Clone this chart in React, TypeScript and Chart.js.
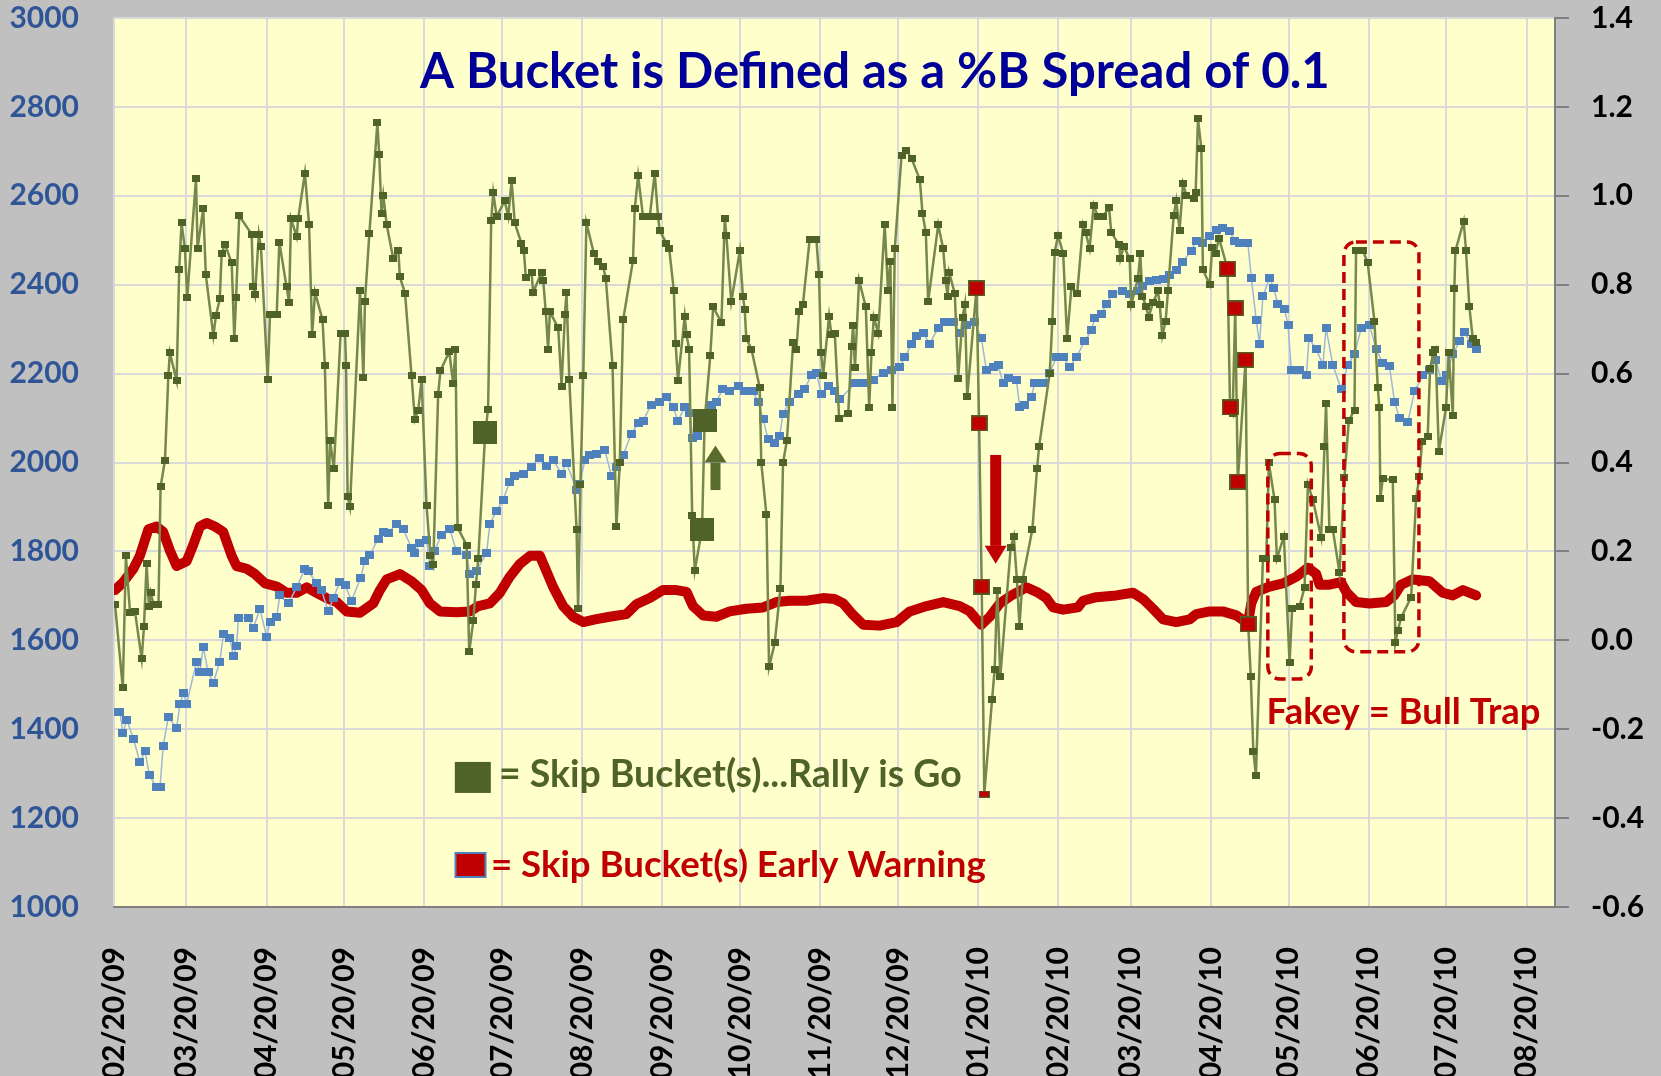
import { useEffect, useRef } from 'react';
import { Chart, registerables } from 'chart.js';

Chart.register(...registerables);

// ---------- axis / calendar ----------
const startDate = '2009-02-20';
const endDate = '2010-08-31';
const tickDates = [
  '2009-02-20', '2009-03-20', '2009-04-20', '2009-05-20', '2009-06-20', '2009-07-20',
  '2009-08-20', '2009-09-20', '2009-10-20', '2009-11-20', '2009-12-20', '2010-01-20',
  '2010-02-20', '2010-03-20', '2010-04-20', '2010-05-20', '2010-06-20', '2010-07-20', '2010-08-20',
];
const tickLabels = [
  '02/20/09', '03/20/09', '04/20/09', '05/20/09', '06/20/09', '07/20/09',
  '08/20/09', '09/20/09', '10/20/09', '11/20/09', '12/20/09', '01/20/10',
  '02/20/10', '03/20/10', '04/20/10', '05/20/10', '06/20/10', '07/20/10', '08/20/10',
];
const leftTicks = { min: 1000, max: 3000, step: 200 };
const rightTicks = { min: -0.6, max: 1.4, step: 0.2 };

// ---------- series: [day since 02/20/09, value] ----------
// %B (right axis)
const pctB: [number, number][] = [
  [0.4,0.081],[3.4,-0.107],[4.6,0.19],[6.2,0.062],[8.1,0.065],[10.7,-0.042],[11.6,0.032],[12.6,0.172],[13.5,0.077],[14.2,0.107],
  [15.3,0.08],[17.2,0.08],[18.0,0.345],[19.7,0.405],[21.0,0.595],[21.6,0.647],[24.2,0.584],[25.2,0.834],[26.1,0.939],[27.4,0.882],
  [28.3,0.771],[31.7,1.039],[32.3,0.882],[34.5,0.971],[35.5,0.822],[38.4,0.685],[39.4,0.73],[40.9,0.768],[41.6,0.87],[42.9,0.891],
  [45.5,0.849],[46.5,0.679],[47.2,0.771],[48.4,0.955],[53.2,0.914],[53.8,0.795],[54.5,0.777],[56.0,0.914],[56.8,0.885],[59.4,0.586],
  [60.3,0.733],[62.9,0.733],[63.9,0.896],[66.7,0.795],[67.7,0.759],[68.4,0.949],[70.6,0.908],[71.2,0.949],[73.8,1.051],[75.4,0.935],
  [76.6,0.688],[77.7,0.783],[80.6,0.721],[81.5,0.619],[82.8,0.304],[83.5,0.449],[85.0,0.387],[87.6,0.691],[89.3,0.691],[89.7,0.619],
  [90.3,0.324],[91.2,0.30],[95.1,0.786],[96.4,0.592],[97.0,0.762],[98.7,0.915],[101.8,1.164],[102.5,1.094],[103.4,0.961],[104.1,1.001],
  [105.4,0.935],[107.9,0.86],[109.9,0.878],[110.5,0.818],[112.5,0.78],[115.0,0.596],[116.3,0.497],[117.6,0.518],[118.9,0.586],[120.8,0.304],
  [122.3,0.19],[123.4,0.17],[125.3,0.554],[126.2,0.607],[129.6,0.649],[131.1,0.578],[132.0,0.655],[132.8,0.254],[136.3,0.214],[137.3,-0.026],
  [138.9,0.044],[139.9,0.125],[140.8,0.184],[143.5,0.467],[144.6,0.52],[145.8,0.945],[146.6,1.007],[147.9,0.953],[151.0,0.989],[152.4,0.953],
  [153.7,1.034],[154.9,0.939],[157.5,0.893],[158.4,0.878],[159.2,0.816],[161.4,0.828],[162.0,0.783],[165.3,0.828],[165.9,0.81],[166.9,0.739],
  [167.8,0.655],[168.5,0.739],[171.7,0.703],[173.0,0.572],[174.3,0.733],[174.9,0.783],[176.0,0.586],[178.8,0.25],[179.4,0.071],[180.3,0.351],
  [181.4,0.596],[182.6,0.939],[185.5,0.87],[187.2,0.852],[189.1,0.84],[190.1,0.814],[192.7,0.619],[194.2,0.256],[195.5,0.399],[196.8,0.721],
  [200.6,0.854],[201.3,0.971],[202.6,1.045],[204.5,0.953],[207.1,0.953],[209.0,1.051],[210.3,0.953],[210.9,0.923],[213.5,0.893],[214.6,0.881],
  [216.4,0.786],[217.1,0.667],[218.0,0.584],[220.6,0.729],[221.3,0.687],[222.3,0.655],[223.5,0.28],[224.5,0.157],[227.3,0.25],[228.3,0.494],
  [230.5,0.641],[231.6,0.75],[234.8,0.715],[236.1,0.949],[236.7,0.911],[238.6,0.762],[241.9,0.876],[243.1,0.774],[243.8,0.744],[244.4,0.679],
  [246.4,0.655],[249.6,0.569],[250.2,0.399],[252.2,0.282],[253.2,-0.06],[255.4,-0.006],[257.6,0.117],[258.6,0.399],[260.1,0.449],[262.5,0.669],
  [263.8,0.655],[264.8,0.739],[266.3,0.756],[268.9,0.902],[271.5,0.902],[272.5,0.822],[273.3,0.647],[274.1,0.596],[276.4,0.729],[277.3,0.688],
  [278.6,0.691],[280.3,0.5],[283.8,0.51],[285.1,0.661],[285.7,0.709],[286.4,0.613],[288.0,0.81],[290.6,0.75],[291.9,0.524],[292.8,0.647],
  [293.7,0.727],[295.4,0.691],[297.9,0.935],[299.2,0.786],[300.1,0.852],[300.9,0.524],[301.8,0.881],[304.4,1.09],[306.3,1.102],[308.3,1.084],
  [311.5,1.036],[312.5,0.961],[313.8,0.917],[314.7,0.762],[318.6,0.935],[320.5,0.881],[321.5,0.81],[322.2,0.774],[322.8,0.828],[325.0,0.78],
  [326.3,0.59],[328.0,0.727],[328.9,0.756],[329.8,0.548],[333.4,0.792],[334.4,0.488],[335.4,0.121],[336.4,-0.346],[339.4,-0.134],[340.4,-0.066],
  [341.4,0.113],[342.6,-0.081],[346.6,0.208],[347.8,0.234],[349.0,0.137],[350.0,0.032],[351.2,0.137],[355.0,0.25],[356.8,0.387],[357.6,0.437],
  [361.7,0.601],[362.7,0.718],[363.6,0.872],[364.9,0.911],[366.9,0.87],[368.4,0.679],[370.1,0.795],[372.3,0.78],[374.6,0.935],[375.6,0.917],
  [377.1,0.881],[378.7,0.979],[380.3,0.953],[382.3,0.953],[384.6,0.974],[385.5,0.917],[388.5,0.89],[389.0,0.858],[390.3,0.887],[392.6,0.858],
  [393.2,0.756],[395.8,0.814],[396.7,0.87],[397.5,0.774],[399.0,0.75],[399.9,0.727],[401.6,0.759],[403.5,0.786],[404.2,0.756],[405.2,0.685],
  [406.5,0.718],[407.4,0.786],[409.6,0.955],[410.6,0.989],[411.9,0.923],[413.2,1.027],[414.5,1.001],[417.3,0.995],[418.1,1.007],[419.0,1.173],
  [420.3,1.106],[420.9,0.834],[423.5,0.8],[424.5,0.884],[425.8,0.87],[427.1,0.905],[430.4,0.836],[431.4,0.524],[432.4,0.51],[433.4,0.747],
  [434.4,0.357],[437.4,0.631],[438.4,0.036],[439.4,-0.081],[440.4,-0.25],[441.4,-0.304],[444.1,0.184],[445.4,0.184],[446.4,0.399],[448.6,0.316],
  [449.5,0.184],[452.2,0.234],[454.4,-0.051],[455.4,0.071],[458.3,0.077],[460.2,0.119],[461.5,0.351],[463.4,0.316],[466.6,0.232],[467.9,0.435],
  [468.5,0.532],[469.8,0.25],[471.1,0.25],[473.7,0.152],[475.6,0.366],[477.3,0.494],[479.5,0.518],[480.1,0.878],[482.7,0.878],[484.6,0.849],
  [487.2,0.718],[488.5,0.569],[489.1,0.524],[489.5,0.319],[490.4,0.363],[494.3,0.361],[495.3,-0.006],[496.2,0.021],[497.5,0.051],[501.4,0.097],
  [503.3,0.319],[504.6,0.369],[505.6,0.447],[507.8,0.459],[508.7,0.611],[510.0,0.647],[510.8,0.655],[512.1,0.425],[514.9,0.524],[515.9,0.647],
  [517.5,0.506],[518.1,0.792],[518.5,0.876],[521.7,0.943],[522.6,0.876],[523.9,0.75],[525.2,0.679],[526.5,0.669],
];

// Index (left axis)
const indexLevel: [number, number][] = [
  [0.4,1439],[2.3,1439],[3.4,1391],[4.9,1421],[7.5,1379],[10.0,1326],[12.0,1350],[13.7,1296],[16.5,1269],[17.8,1269],
  [19.0,1362],[21.0,1427],[24.2,1403],[25.5,1457],[26.8,1481],[28.1,1457],[31.9,1552],[33.2,1528],[34.5,1585],[36.4,1528],
  [38.4,1504],[40.9,1552],[42.3,1614],[44.8,1606],[46.1,1564],[47.4,1588],[48.1,1651],[51.9,1651],[53.8,1627],[56.4,1671],
  [59.0,1608],[60.3,1641],[62.9,1653],[64.1,1701],[67.4,1683],[70.6,1719],[73.8,1761],[75.1,1755],[78.3,1729],[80.2,1713],
  [82.8,1665],[84.8,1695],[87.3,1731],[89.3,1725],[91.8,1689],[95.3,1740],[97.0,1779],[98.9,1791],[102.1,1829],[104.1,1844],
  [106.0,1842],[109.2,1862],[111.8,1850],[115.0,1808],[116.3,1796],[118.2,1820],[120.8,1826],[122.1,1767],[124.0,1802],[126.6,1838],
  [129.8,1850],[132.4,1800],[136.3,1791],[137.6,1749],[140.1,1757],[144.0,1796],[145.3,1862],[147.9,1892],[150.4,1916],[153.0,1957],
  [155.0,1969],[158.2,1975],[161.4,1991],[164.6,2011],[167.2,1993],[169.8,2005],[173.0,1975],[174.9,1999],[178.8,1939],[180.1,1951],
  [182.0,2005],[183.9,2017],[186.5,2019],[189.7,2029],[192.3,1969],[194.2,1991],[196.8,2017],[200.0,2065],[202.6,2088],[204.5,2094],
  [207.7,2130],[211.0,2136],[213.5,2148],[216.1,2124],[218.0,2094],[220.6,2124],[222.5,2112],[223.8,2055],[225.5,2059],[228.3,2112],
  [230.9,2130],[232.8,2136],[235.4,2166],[238.0,2160],[241.2,2172],[243.8,2160],[247.0,2160],[249.0,2136],[250.9,2098],[252.8,2053],
  [255.4,2043],[257.3,2059],[258.6,2110],[261.2,2136],[264.4,2154],[267.0,2166],[269.5,2196],[271.5,2202],[273.4,2154],[276.0,2172],
  [278.5,2160],[280.6,2142],[286.4,2178],[289.6,2178],[293.4,2186],[297.3,2202],[300.5,2208],[303.7,2214],[305.7,2237],[308.3,2267],
  [310.2,2285],[312.8,2291],[315.3,2267],[318.6,2303],[321.1,2315],[324.4,2315],[326.9,2291],[329.5,2309],[332.7,2315],[335.3,2279],
  [337.2,2208],[339.8,2214],[341.7,2220],[343.7,2178],[345.6,2190],[348.8,2186],[350.1,2124],[352.0,2130],[354.6,2148],[355.9,2178],
  [359.1,2178],[361.7,2202],[364.3,2237],[366.9,2237],[369.4,2214],[372.0,2237],[375.2,2273],[377.8,2297],[379.1,2324],[381.6,2333],
  [383.6,2357],[386.1,2380],[390.0,2386],[392.6,2380],[395.8,2386],[397.7,2398],[400.3,2408],[402.9,2410],[405.5,2412],[408.0,2422],
  [410.6,2432],[413.2,2452],[416.4,2476],[418.3,2499],[420.9,2493],[423.5,2510],[426.1,2523],[428.6,2527],[431.2,2520],[433.2,2499],
  [435.1,2493],[438.3,2493],[439.6,2416],[441.5,2321],[442.8,2267],[444.1,2374],[446.7,2416],[448.2,2392],[449.9,2357],[452.5,2345],
  [453.8,2309],[455.1,2208],[458.3,2208],[460.9,2196],[461.9,2279],[464.7,2255],[467.3,2220],[468.5,2303],[471.1,2220],[474.3,2166],
  [476.9,2220],[479.5,2243],[482.1,2303],[485.3,2309],[487.9,2255],[490.4,2223],[493.0,2217],[495.0,2136],[496.9,2100],[500.1,2091],
  [502.7,2160],[505.9,2196],[508.5,2208],[511.0,2231],[513.0,2184],[514.9,2196],[517.5,2243],[520.1,2273],[522.0,2293],[524.6,2267],
  [526.5,2255],
];

// Band width (right axis)
const bandWidth: [number, number][] = [
  [0.4,0.113],[3.6,0.131],[7.5,0.161],[10.0,0.19],[13.3,0.25],[16.5,0.256],[19.0,0.244],[21.6,0.202],[24.2,0.167],[28.1,0.178],
  [30.6,0.214],[33.2,0.256],[35.8,0.264],[39.0,0.256],[42.2,0.244],[45.5,0.19],[47.4,0.167],[51.3,0.161],[54.5,0.149],[58.4,0.128],
  [62.9,0.121],[66.7,0.107],[70.6,0.107],[74.5,0.119],[78.3,0.107],[82.2,0.095],[86.1,0.086],[89.9,0.065],[95.1,0.062],[100.2,0.083],
  [102.8,0.113],[105.4,0.137],[110.5,0.149],[115.0,0.133],[118.9,0.113],[122.1,0.083],[126.0,0.065],[132.4,0.063],[137.6,0.065],[140.8,0.077],
  [145.3,0.083],[149.2,0.107],[153.0,0.143],[156.9,0.172],[160.8,0.19],[164.6,0.19],[167.2,0.155],[169.8,0.119],[173.6,0.077],[177.5,0.053],
  [181.4,0.041],[186.0,0.047],[191.6,0.053],[198.1,0.059],[201.9,0.081],[207.1,0.095],[212.2,0.113],[217.4,0.113],[221.3,0.109],[223.8,0.077],
  [227.7,0.056],[232.8,0.053],[238.0,0.065],[244.4,0.071],[250.9,0.074],[256.0,0.086],[261.2,0.089],[267.6,0.089],[274.1,0.095],[278.5,0.093],
  [281.9,0.083],[285.7,0.057],[289.6,0.035],[296.0,0.033],[302.5,0.041],[307.6,0.065],[314.1,0.077],[320.5,0.086],[326.9,0.077],[330.8,0.065],
  [333.4,0.047],[335.3,0.035],[338.5,0.053],[342.4,0.083],[346.9,0.101],[352.7,0.119],[356.6,0.109],[360.4,0.095],[363.0,0.074],[366.9,0.069],
  [372.6,0.074],[374.6,0.089],[379.7,0.097],[387.4,0.101],[393.9,0.107],[397.7,0.093],[401.6,0.071],[405.5,0.047],[410.6,0.041],[415.8,0.047],
  [418.3,0.059],[423.5,0.065],[428.6,0.065],[433.8,0.056],[438.3,0.038],[439.6,0.083],[441.5,0.109],[446.7,0.121],[451.8,0.128],[457.0,0.143],
  [461.5,0.163],[464.7,0.149],[466.0,0.125],[469.8,0.125],[474.3,0.131],[476.3,0.109],[480.1,0.086],[485.3,0.083],[491.7,0.086],[494.9,0.101],
  [497.5,0.125],[502.0,0.137],[508.5,0.133],[513.6,0.107],[517.5,0.101],[521.4,0.113],[526.5,0.101],
];

// Highlighted %B points
const skipBucketGo: [number, number][] = [[143.5,0.467],[227.3,0.25],[228.3,0.494]];
const skipBucketWarn: [number, number][] = [
  [333.4,0.792],[334.4,0.488],[335.4,0.121],
  [430.4,0.836],[431.4,0.524],[433.4,0.747],[434.4,0.357],[437.4,0.631],[438.4,0.036],
];
const skipBucketWarnSmall: [number, number][] = [[336.4,-0.346]];

// ---------- annotation texts & placement (day / axis value) ----------
const titleText = 'A Bucket is Defined as a %B Spread of 0.1';
const legendGoText = '= Skip Bucket(s)...Rally is Go';
const legendWarnText = '= Skip Bucket(s) Early Warning';
const fakeyText = 'Fakey = Bull Trap';

const layoutNotes = {
  title: { day: 294.1, left: 2843, width: 910 },
  legendGo: { boxDay: 138.7, boxLeft: 1291.5, boxW: 36, boxH: 31, textDay: 148.8, left: 1270, width: 463 },
  legendWarn: { boxDay: 137.8, boxLeft: 1094.5, boxW: 30, boxH: 24, textDay: 145.7, left: 1067.5, width: 495 },
  fakey: { day: 445.5, left: 1412, width: 274 },
  boxes: [
    { from: 446.0, to: 462.8, top: 0.42, bottom: -0.087 },
    { from: 475.4, to: 504.4, top: 0.896, bottom: -0.026 },
  ],
  downArrow: { day: 340.8, from: 0.417, to: 0.172 },
  upArrow: { day: 232.5, from: 0.338, to: 0.438 },
};

const FONT = 'Lato, "Open Sans", sans-serif';
const W = 1661;
const H = 1076;

const dayOf = (d: string) => Math.round((Date.parse(d) - Date.parse(startDate)) / 86400000);
const tickDays = tickDates.map(dayOf);
const toXY = (a: [number, number][]) => a.map(([x, y]) => ({ x, y }));

function rectImg(w: number, h: number, fill: string, stroke?: string, lw = 1.5) {
  const c = document.createElement('canvas');
  c.width = w;
  c.height = h;
  const g = c.getContext('2d')!;
  g.fillStyle = fill;
  g.fillRect(0, 0, w, h);
  if (stroke) {
    g.strokeStyle = stroke;
    g.lineWidth = lw;
    g.strokeRect(lw / 2, lw / 2, w - lw, h - lw);
  }
  return c;
}

function fitSize(ctx: CanvasRenderingContext2D, text: string, width: number) {
  ctx.font = `bold 100px ${FONT}`;
  return (100 * width) / ctx.measureText(text).width;
}

function drawArrow(ctx: CanvasRenderingContext2D, x: number, y0: number, y1: number, shaftW: number, headW: number, headL: number, color: string) {
  const s = y1 > y0 ? 1 : -1;
  const base = y1 - s * headL;
  ctx.fillStyle = color;
  ctx.fillRect(x - shaftW / 2, Math.min(y0, base), shaftW, Math.abs(base - y0));
  ctx.beginPath();
  ctx.moveTo(x - headW / 2, base);
  ctx.lineTo(x + headW / 2, base);
  ctx.lineTo(x, y1);
  ctx.closePath();
  ctx.fill();
}

const backgroundPlugin = {
  id: 'bgfill',
  beforeDraw(chart: any) {
    const { ctx, chartArea: a } = chart;
    ctx.save();
    ctx.fillStyle = '#C0C0C0';
    ctx.fillRect(0, 0, chart.width, chart.height);
    ctx.fillStyle = '#FFFFCC';
    ctx.fillRect(a.left, a.top, a.right - a.left, a.bottom - a.top);
    ctx.restore();
  },
  afterDraw(chart: any) {
    // short outward tick marks on the right axis
    const { ctx, chartArea: a, scales } = chart;
    const s = scales.yR;
    ctx.save();
    ctx.strokeStyle = '#808080';
    ctx.lineWidth = 2;
    for (const t of s.ticks) {
      const y = Math.round(s.getPixelForValue(t.value));
      ctx.beginPath();
      ctx.moveTo(a.right, y);
      ctx.lineTo(a.right + 14, y);
      ctx.stroke();
    }
    ctx.beginPath();
    ctx.moveTo(a.right, a.bottom);
    ctx.lineTo(a.right + 14, a.bottom);
    ctx.stroke();
    ctx.restore();
  },
};

const notesPlugin = {
  id: 'notes',
  afterDatasetsDraw(chart: any) {
    const { ctx, scales } = chart;
    const X = (d: number) => scales.x.getPixelForValue(d);
    const L = (v: number) => scales.y.getPixelForValue(v);
    const R = (v: number) => scales.yR.getPixelForValue(v);
    const n = layoutNotes;
    ctx.save();

    // dashed "fakey" boxes
    ctx.setLineDash([11, 6]);
    ctx.lineWidth = 3.5;
    ctx.strokeStyle = '#C00000';
    for (const b of n.boxes) {
      const x0 = X(b.from), x1 = X(b.to), y0 = R(b.top), y1 = R(b.bottom);
      ctx.beginPath();
      ctx.roundRect(x0, y0, x1 - x0, y1 - y0, 12);
      ctx.stroke();
    }
    ctx.setLineDash([]);

    // arrows
    drawArrow(ctx, X(n.downArrow.day), R(n.downArrow.from), R(n.downArrow.to), 11, 22, 18, '#C00000');
    drawArrow(ctx, X(n.upArrow.day), R(n.upArrow.from), R(n.upArrow.to), 10, 22, 17, '#5A6B2E');

    ctx.textBaseline = 'alphabetic';

    // title
    let fs = fitSize(ctx, titleText, n.title.width);
    ctx.font = `bold ${fs}px ${FONT}`;
    ctx.textAlign = 'center';
    ctx.fillStyle = '#000099';
    ctx.fillText(titleText, X(n.title.day), L(n.title.left));

    // legend rows
    ctx.textAlign = 'left';
    const g = n.legendGo;
    ctx.fillStyle = '#4F6228';
    ctx.fillRect(X(g.boxDay) - g.boxW / 2, L(g.boxLeft) - g.boxH / 2, g.boxW, g.boxH);
    fs = fitSize(ctx, legendGoText, g.width);
    ctx.font = `bold ${fs}px ${FONT}`;
    ctx.fillText(legendGoText, X(g.textDay), L(g.left));

    const w = n.legendWarn;
    ctx.fillStyle = '#C00000';
    ctx.fillRect(X(w.boxDay) - w.boxW / 2, L(w.boxLeft) - w.boxH / 2, w.boxW, w.boxH);
    ctx.strokeStyle = '#4F81BD';
    ctx.lineWidth = 2;
    ctx.strokeRect(X(w.boxDay) - w.boxW / 2, L(w.boxLeft) - w.boxH / 2, w.boxW, w.boxH);
    fs = fitSize(ctx, legendWarnText, w.width);
    ctx.font = `bold ${fs}px ${FONT}`;
    ctx.fillStyle = '#C00000';
    ctx.fillText(legendWarnText, X(w.textDay), L(w.left));

    // fakey label
    fs = fitSize(ctx, fakeyText, n.fakey.width);
    ctx.font = `bold ${fs}px ${FONT}`;
    ctx.fillText(fakeyText, X(n.fakey.day), L(n.fakey.left));

    ctx.restore();
  },
};

export default function App() {
  const ref = useRef<HTMLCanvasElement>(null);

  useEffect(() => {
    document.body.style.margin = '0';
    document.body.style.background = '#C0C0C0';
    const greenPt = rectImg(8, 7, '#4F6228');
    const bluePt = rectImg(9, 8, '#4F81BD');
    const bigGreen = rectImg(24, 23, '#4F6228');
    const redSq = rectImg(17, 16, '#C00000', '#4F6228', 1.5);
    const redSmall = rectImg(11, 7, '#C00000', '#4F6228', 1);
    const tickFont = { family: FONT, size: 30, weight: 'bold' as const };
    const transparent = 'rgba(0,0,0,0)';

    const chart = new Chart(ref.current!, {
      type: 'line',
      data: {
        datasets: [
          { label: 'warnSmall', data: toXY(skipBucketWarnSmall), yAxisID: 'yR', showLine: false, pointStyle: redSmall, pointRadius: 4, order: 0 } as any,
          { label: 'warn', data: toXY(skipBucketWarn), yAxisID: 'yR', showLine: false, pointStyle: redSq, pointRadius: 4, order: 0 } as any,
          { label: 'go', data: toXY(skipBucketGo), yAxisID: 'yR', showLine: false, pointStyle: bigGreen, pointRadius: 4, order: 1 } as any,
          { label: '%B', data: toXY(pctB), yAxisID: 'yR', borderColor: '#76884A', borderWidth: 2.5, pointStyle: greenPt, pointRadius: 4, order: 2 } as any,
          { label: 'Index', data: toXY(indexLevel), yAxisID: 'y', borderColor: '#9DB7DA', borderWidth: 1.5, pointStyle: bluePt, pointRadius: 4, order: 3 } as any,
          { label: 'BandWidth', data: toXY(bandWidth), yAxisID: 'yR', borderColor: '#C00000', borderWidth: 10, borderJoinStyle: 'round', borderCapStyle: 'round', pointRadius: 0, order: 4 } as any,
        ],
      },
      options: {
        responsive: false,
        animation: false,
        devicePixelRatio: 1,
        layout: { padding: { top: 18, left: 0, right: 0, bottom: 0 } },
        plugins: { legend: { display: false }, tooltip: { enabled: false }, title: { display: false } },
        elements: { line: { tension: 0 } },
        scales: {
          x: {
            type: 'linear',
            min: 0,
            max: dayOf(endDate),
            afterBuildTicks: (s: any) => { s.ticks = tickDays.map((v) => ({ value: v })); },
            afterFit: (s: any) => { s.height = 169; },
            ticks: {
              autoSkip: false, minRotation: 90, maxRotation: 90, padding: 0, color: '#000000', font: tickFont,
              callback: (_v: any, i: number) => tickLabels[i],
            },
            grid: { color: '#D9D9D9', lineWidth: 2, drawTicks: true, tickLength: 40, tickColor: transparent },
            border: { display: true, color: '#808080', width: 2 },
          },
          y: {
            position: 'left',
            min: leftTicks.min,
            max: leftTicks.max,
            afterFit: (s: any) => { s.width = 114; },
            ticks: { stepSize: leftTicks.step, padding: 0, color: '#2F5597', font: tickFont, callback: (v: any) => String(v) },
            grid: { color: '#D9D9D9', lineWidth: 2, drawTicks: true, tickLength: 35, tickColor: transparent },
            border: { display: false },
          },
          yR: {
            position: 'right',
            min: rightTicks.min,
            max: rightTicks.max,
            afterFit: (s: any) => { s.width = 106; },
            ticks: {
              stepSize: rightTicks.step, padding: 0, color: '#000000', font: tickFont,
              callback: (v: any) => (Math.abs(Number(v)) < 1e-9 ? '0.0' : Number(v).toFixed(1)),
            },
            grid: { drawOnChartArea: false, drawTicks: true, tickLength: 36, tickColor: transparent },
            border: { display: true, color: '#808080', width: 2 },
          },
        },
      } as any,
      plugins: [backgroundPlugin, notesPlugin],
    });
    return () => chart.destroy();
  }, []);

  return <canvas ref={ref} width={W} height={H} style={{ display: 'block', width: W, height: H }} />;
}
